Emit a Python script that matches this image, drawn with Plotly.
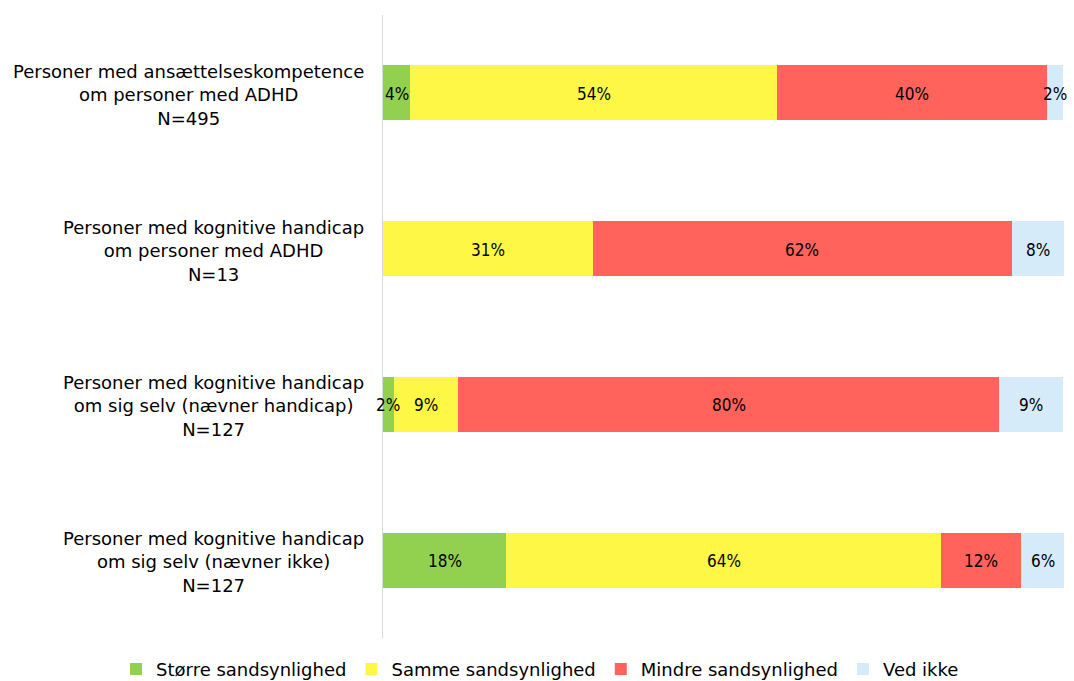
import plotly.graph_objects as go

categories = [
    "Personer med ansættelseskompetence<br>om personer med ADHD<br>N=495",
    "Personer med kognitive handicap<br>om personer med ADHD<br>N=13",
    "Personer med kognitive handicap<br>om sig selv (nævner handicap)<br>N=127",
    "Personer med kognitive handicap<br>om sig selv (nævner ikke)<br>N=127",
]
series_names = ["Større sandsynlighed", "Samme sandsynlighed", "Mindre sandsynlighed", "Ved ikke"]
storre = [4.0, 0.0, 1.6, 18.1]
samme = [53.9, 30.8, 9.4, 63.8]
mindre = [39.6, 61.5, 79.5, 11.8]
ved_ikke = [2.4, 7.7, 9.4, 6.3]
colors = ["#92D050", "#FFF745", "#FF635B", "#D5EBFA"]

series = [storre, samme, mindre, ved_ikke]

label_font = "DejaVu Sans, sans-serif"
value_font = "DejaVu Sans Condensed, DejaVu Sans, sans-serif"

fig = go.Figure()
for name, vals, col in zip(series_names, series, colors):
    fig.add_trace(go.Bar(
        y=categories, x=vals, name=name, orientation="h",
        marker=dict(color=col, line=dict(width=0)),
        hoverinfo="x+name",
    ))

annotations = []
for i, cat in enumerate(categories):
    cum = 0.0
    for vals in series:
        v = vals[i]
        if v > 0:
            annotations.append(dict(
                x=cum + v / 2, y=cat, xref="x", yref="y", text=f"{round(v)}%",
                showarrow=False, font=dict(family=value_font, size=17, color="#000000"),
                xanchor="center", yanchor="middle", yshift=-1,
            ))
        cum += v
    annotations.append(dict(
        x=0, y=cat, xref="paper", yref="y", text=cat, showarrow=False,
        xanchor="right", yanchor="middle", align="center", xshift=-17, yshift=-2,
        font=dict(family=label_font, size=18, color="#000000"),
    ))

fig.update_layout(
    barmode="stack",
    width=1074, height=681,
    margin=dict(l=383, r=10, t=15, b=43, autoexpand=False),
    paper_bgcolor="white", plot_bgcolor="white",
    bargap=0.646,
    xaxis=dict(range=[0, 100], visible=False, fixedrange=True),
    yaxis=dict(autorange="reversed", showticklabels=False, showgrid=False,
               showline=True, linecolor="#D9D9D9", linewidth=1, ticks="",
               zeroline=False),
    annotations=annotations,
    legend=dict(orientation="h", xref="paper", x=-0.392, xanchor="left",
                yref="paper", y=-0.0205, yanchor="top",
                font=dict(family=label_font, size=18, color="#000000"),
                traceorder="normal", itemclick=False),
    showlegend=True,
)

fig.write_html("out.html", config={"displayModeBar": False},
               post_script="document.body.style.margin='0';document.body.style.overflow='hidden';")
